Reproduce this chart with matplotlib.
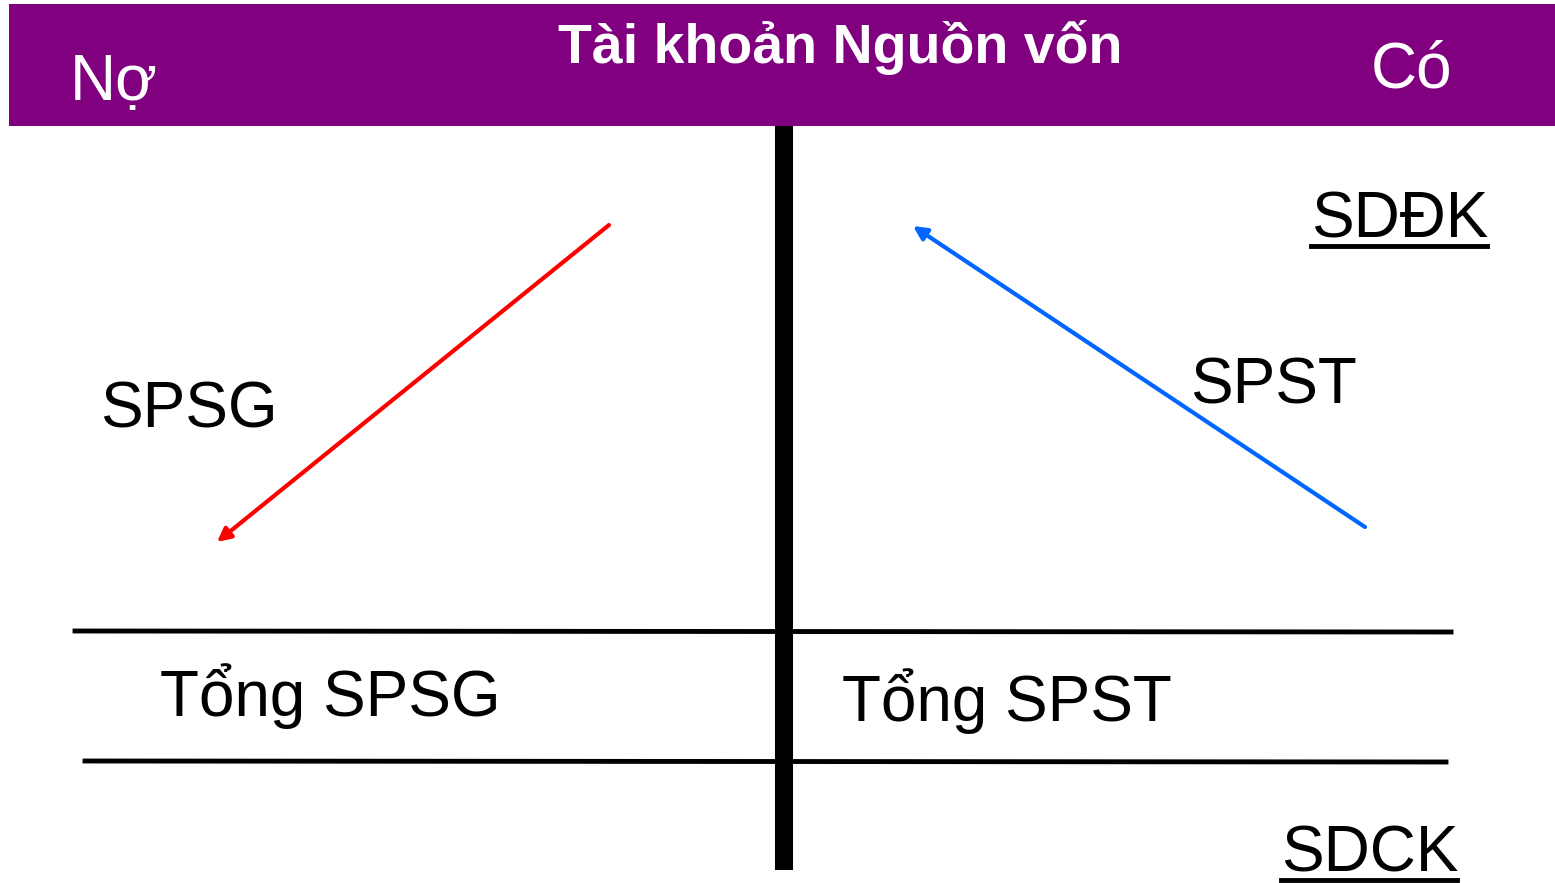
import matplotlib
matplotlib.use("Agg")
import matplotlib.pyplot as plt
from matplotlib.patches import Rectangle, FancyArrowPatch

plt.rcParams['font.family'] = ['Liberation Sans', 'DejaVu Sans']

title = "Tài khoản Nguồn vốn"
debit_label = "Nợ"
credit_label = "Có"
left_labels = ["SPSG", "Tổng SPSG"]
right_labels = ["SDĐK", "SPST", "Tổng SPST", "SDCK"]

W, H = 1555, 883
fig = plt.figure(figsize=(W / 100, H / 100), dpi=100)
ax = fig.add_axes([0, 0, 1, 1])
ax.set_xlim(0, W)
ax.set_ylim(H, 0)
ax.axis('off')

purple = '#800080'
ax.add_patch(Rectangle((9, 4), W - 9, 122, facecolor=purple, edgecolor='none'))

ax.text(840, 63, title, color='white', fontsize=40, fontweight='bold', ha='center', va='baseline')
ax.text(70, 100, debit_label, color='white', fontsize=46, ha='left', va='baseline')
ax.text(1371, 88, credit_label, color='white', fontsize=46, ha='left', va='baseline')

# T-account lines
ax.plot([784, 784], [126, 870], color='black', linewidth=13, solid_capstyle='butt')
ax.plot([75, 1451], [631, 632], color='black', linewidth=3.5)
ax.plot([85, 1446], [761, 762], color='black', linewidth=3.5)

# arrows
ax.add_patch(FancyArrowPatch((609, 225), (217, 542), arrowstyle='-|>', mutation_scale=20,
                             color='#FF0000', linewidth=3, shrinkA=0, shrinkB=0))
ax.add_patch(FancyArrowPatch((1365, 527), (913, 226), arrowstyle='-|>', mutation_scale=20,
                             color='#0066FF', linewidth=3, shrinkA=0, shrinkB=0))

fs = 46
ax.text(100, 428, left_labels[0], fontsize=fs, ha='left', va='baseline', color='black')
ax.text(160, 716, left_labels[1], fontsize=fs, ha='left', va='baseline', color='black')

ax.text(1311, 238, right_labels[0], fontsize=fs, ha='left', va='baseline', color='black')
ax.plot([1311, 1487], [246, 246], color='black', linewidth=3.5)
ax.text(1190, 403, right_labels[1], fontsize=fs, ha='left', va='baseline', color='black')
ax.text(842, 721, right_labels[2], fontsize=fs, ha='left', va='baseline', color='black')
ax.text(1281, 872, right_labels[3], fontsize=fs, ha='left', va='baseline', color='black')
ax.plot([1281, 1457], [880, 880], color='black', linewidth=3.5)

fig.savefig('out.png', dpi=100)
